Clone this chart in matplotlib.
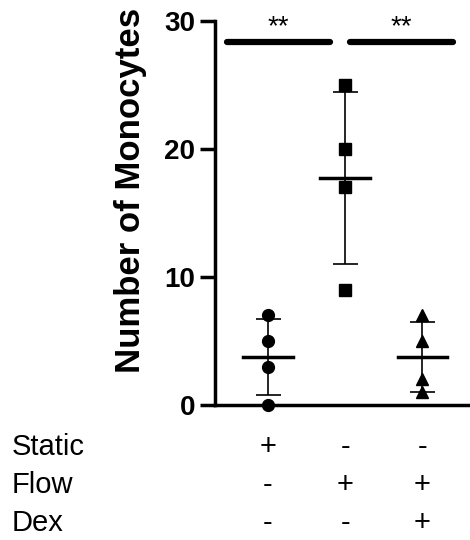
import matplotlib.pyplot as plt
import numpy as np

plt.rcParams['font.family'] = ['Liberation Sans', 'DejaVu Sans']

# data
static = [0, 3, 5, 7]
flow = [9, 17, 20, 25]
flow_dex = [1, 2, 5, 7]
groups = [static, flow, flow_dex]
markers = ['o', 's', '^']
row_names = ['Static', 'Flow', 'Dex']
row_signs = [['+', '-', '-'],
             ['-', '+', '+'],
             ['-', '-', '+']]
sig_spans = [(0.47, 1.8), (2.06, 3.4)]
sig_labels = ['**', '**']

fig = plt.figure(figsize=(4.7, 5.4), dpi=100)
ax = fig.add_axes([0.457, 0.25, 0.543, 0.711])

for i, vals in enumerate(groups):
    x = i + 1
    m = np.mean(vals)
    sd = np.std(vals, ddof=1)
    ax.plot([x] * len(vals), vals, linestyle='none', marker=markers[i],
            color='black', markersize=8.5, clip_on=False, zorder=3)
    ax.errorbar(x, m, yerr=sd, color='black', capsize=9, elinewidth=1.2,
                capthick=1.2, fmt='none', zorder=2)
    ax.plot([x - 0.32, x + 0.32], [m, m], color='black', lw=2.5, zorder=2)

# significance bars
for (x0, x1), lab in zip(sig_spans, sig_labels):
    ax.plot([x0, x1], [28.4, 28.4], color='black', lw=4.5,
            solid_capstyle='round', clip_on=False)
    ax.text((x0 + x1) / 2, 28.5, lab, ha='center', va='bottom',
            fontsize=20, clip_on=False)

ax.set_xlim(0.31, 3.62)
ax.set_ylim(0, 30)
ax.set_yticks([0, 10, 20, 30])
ax.set_xticks([])
for lab in ax.get_yticklabels():
    lab.set_fontweight('bold')
ax.tick_params(axis='y', labelsize=20, length=11, width=2.5, pad=3)
ax.spines['top'].set_visible(False)
ax.spines['right'].set_visible(False)
ax.spines['left'].set_linewidth(2.5)
ax.spines['bottom'].set_linewidth(2.5)
ax.set_ylabel('Number of Monocytes', fontsize=25, fontweight='bold')
ax.yaxis.set_label_coords(-0.267, 0.56)

# treatment table under the axis
row_y = [-3.3, -6.25, -9.2]
for r, name in enumerate(row_names):
    ax.text(-2.32, row_y[r], name, ha='left', va='center', fontsize=21,
            clip_on=False)
    for c, s in enumerate(row_signs[r]):
        ax.text(c + 1, row_y[r], s, ha='center', va='center', fontsize=21,
                clip_on=False)

fig.savefig('out.png', dpi=100)
